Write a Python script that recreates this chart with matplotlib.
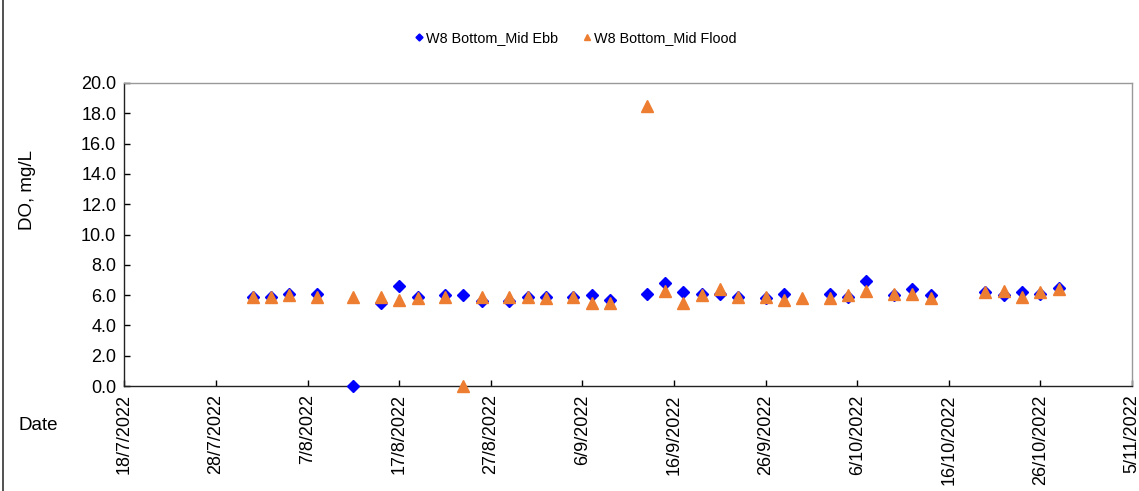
import datetime as dt
import matplotlib.pyplot as plt
from matplotlib.lines import Line2D

plt.rcParams['font.family'] = ['Liberation Sans', 'DejaVu Sans']

# sampling dates (day/month, 2022)
ebb_dates = ['1/8', '3/8', '5/8', '8/8', '12/8', '15/8', '17/8', '19/8', '22/8', '24/8',
             '26/8', '29/8', '31/8', '2/9', '5/9', '7/9', '9/9', '13/9', '15/9', '17/9',
             '19/9', '21/9', '23/9', '26/9', '28/9', '3/10', '5/10', '7/10', '10/10',
             '12/10', '14/10', '20/10', '22/10', '24/10', '26/10', '28/10']
ebb_do = [5.9, 5.9, 6.1, 6.1, 0.0, 5.5, 6.6, 5.9, 6.0, 6.0,
          5.6, 5.6, 5.9, 5.9, 5.9, 6.0, 5.7, 6.1, 6.8, 6.2,
          6.1, 6.1, 5.9, 5.8, 6.1, 6.1, 5.9, 6.9, 6.0,
          6.4, 6.0, 6.2, 6.0, 6.2, 6.1, 6.5]

flood_dates = ['1/8', '3/8', '5/8', '8/8', '12/8', '15/8', '17/8', '19/8', '22/8', '24/8',
               '26/8', '29/8', '31/8', '2/9', '5/9', '7/9', '9/9', '13/9', '15/9', '17/9',
               '19/9', '21/9', '23/9', '26/9', '28/9', '30/9', '3/10', '5/10', '7/10',
               '10/10', '12/10', '14/10', '20/10', '22/10', '24/10', '26/10', '28/10']
flood_do = [5.9, 5.9, 6.0, 5.9, 5.9, 5.9, 5.7, 5.8, 5.9, 0.0,
            5.9, 5.9, 5.9, 5.8, 5.9, 5.5, 5.5, 18.5, 6.3, 5.5,
            6.0, 6.4, 5.9, 5.9, 5.7, 5.8, 5.8, 6.0, 6.3,
            6.1, 6.1, 5.8, 6.2, 6.3, 5.9, 6.2, 6.4]

tick_labels = ['18/7/2022', '28/7/2022', '7/8/2022', '17/8/2022', '27/8/2022', '6/9/2022',
               '16/9/2022', '26/9/2022', '6/10/2022', '16/10/2022', '26/10/2022', '5/11/2022']
y_ticks = [0, 2, 4, 6, 8, 10, 12, 14, 16, 18, 20]


def to_date(s, year=2022):
    d, m = s.split('/')[:2]
    return dt.datetime(year, int(m), int(d))


ebb_x = [to_date(s) for s in ebb_dates]
flood_x = [to_date(s) for s in flood_dates]
tick_x = [to_date(s) for s in tick_labels]

fig = plt.figure(figsize=(11.39, 4.91), dpi=100)
ax = fig.add_axes([0.1093, 0.2138, 0.8846, 0.6172])

ax.plot(ebb_x, ebb_do, linestyle='none', marker='D', markersize=6.5,
        color='#0000FF', label='W8 Bottom_Mid Ebb', zorder=3, clip_on=False)
ax.plot(flood_x, flood_do, linestyle='none', marker='^', markersize=9,
        color='#ED7D31', label='W8 Bottom_Mid Flood', zorder=4, clip_on=False)

ax.set_xlim(tick_x[0], tick_x[-1])
ax.set_ylim(0, 20)
ax.set_xticks(tick_x)
ax.set_xticklabels(tick_labels, rotation=90)
ax.set_yticks(y_ticks)
ax.set_yticklabels(['%.1f' % v for v in y_ticks])
ax.tick_params(direction='in', length=4, width=1, labelsize=13, pad=6)
for sp in ax.spines.values():
    sp.set_linewidth(1)
    sp.set_color('#222222')
ax.spines['right'].set_color('#999999')
ax.spines['top'].set_color('#999999')

fig.text(27 / 1139, 1 - 190 / 491, 'DO, mg/L', rotation=90, ha='center', va='center', fontsize=13.5)
fig.text(18 / 1139, 1 - 425 / 491, 'Date', ha='left', va='center', fontsize=13.5)

leg = fig.legend(loc='center', bbox_to_anchor=(576 / 1139, 1 - 38 / 491), ncol=2, frameon=False,
                 fontsize=10.4, markerscale=0.55, handlelength=0.5, handletextpad=0.2,
                 columnspacing=1.8)

fig.add_artist(Line2D([2.5 / 1139, 2.5 / 1139], [0, 1], transform=fig.transFigure,
                      color='#333333', linewidth=1.2))

fig.savefig('out.png', dpi=100)
